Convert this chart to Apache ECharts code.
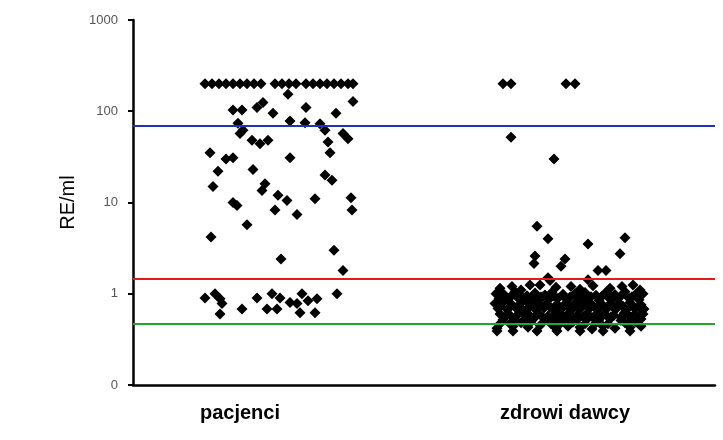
<!DOCTYPE html>
<html>
<head>
<meta charset="utf-8">
<title>RE/ml</title>
<script src="https://cdn.jsdelivr.net/npm/echarts@6/dist/echarts.min.js"></script>
<style>
  html, body { margin: 0; padding: 0; background: #fff; }
  #chart { width: 723px; height: 440px; }
</style>
</head>
<body>
<div id="chart"></div>
<script>
"use strict";

// group labels and where they sit along the jitter axis
const categories = ["pacjenci", "zdrowi dawcy"];
const categoryPos = [107, 432];

// y ticks (log scale, bottom decade is labelled "0")
const yTicks = [0.1, 1, 10, 100, 1000];

// cut-off lines
const cutLines = [
  { value: 70, color: "#1f2fbf" },
  { value: 1.45, color: "#e3191c" },
  { value: 0.47, color: "#1fa82a" }
];

// [jitter position, RE/ml]
const pacjenci = [
  [72, 200], [79, 200], [86, 200], [93, 200], [100, 200], [107, 200], [114, 200], [121, 200], [128, 200],
  [142, 200], [149, 200], [156, 200], [163, 200],
  [173, 200], [180, 200], [187, 200], [194, 200], [201, 200], [208, 200], [215, 200], [220, 200],
  [155, 154], [220, 128], [100, 103], [109, 103], [124, 110], [130, 125], [140, 95], [173, 110], [203, 95],
  [105, 74], [110, 62], [107, 57], [157, 78], [172, 75], [187, 73], [192, 62], [195, 46], [210, 57], [215, 50],
  [119, 48], [127, 44], [135, 48],
  [77, 35], [93, 30], [100, 31], [157, 31], [197, 35],
  [85, 22], [120, 23], [80, 15], [132, 16], [129, 13.5], [192, 20], [199, 17.5],
  [100, 10], [104, 9.3], [145, 12], [154, 10.5], [182, 11], [218, 11.3], [219, 8.3], [142, 8.3], [164, 7.4],
  [114, 5.7], [78, 4.2], [201, 3.0], [148, 2.4], [210, 1.8],
  [72, 0.9], [82, 1.0], [87, 0.88], [89, 0.78], [87, 0.6], [109, 0.68], [124, 0.9], [139, 1.0], [147, 0.9],
  [134, 0.68], [144, 0.68], [157, 0.8], [169, 1.0], [164, 0.78], [167, 0.62], [175, 0.84], [184, 0.88],
  [182, 0.62], [204, 1.0]
];

const zdrowi = [
  [370, 200], [378, 200], [433, 200], [442, 200],
  [378, 52], [421, 30], [404, 5.5], [415, 4.0], [455, 3.5], [492, 4.1], [487, 2.75],
  [402, 2.6], [401, 2.15], [432, 2.4], [428, 2.0], [465, 1.8], [473, 1.8],
  [415, 1.5], [397, 1.25], [500, 1.25], [417, 1.4], [455, 1.42],
  [367, 1.15], [379, 1.2], [388, 1.1], [407, 1.25], [423, 1.18], [438, 1.2], [447, 1.12], [460, 1.22],
  [477, 1.15], [489, 1.2], [507, 1.1],
  [363, 1.0], [371, 0.98], [382, 1.05], [394, 0.95], [402, 1.02], [412, 0.97], [419, 1.04], [430, 0.99],
  [442, 1.0], [452, 1.03], [463, 0.96], [472, 1.01], [482, 0.98], [492, 1.05], [502, 0.97], [510, 1.0],
  [368, 0.93], [378, 0.94], [389, 0.92], [400, 0.95], [410, 0.93], [421, 0.94], [437, 0.92], [449, 0.95],
  [458, 0.93], [469, 0.94], [479, 0.92], [488, 0.95], [499, 0.93], [506, 0.94],
  [366, 0.88], [375, 0.86], [385, 0.9], [391, 0.85], [399, 0.88], [408, 0.92], [416, 0.87], [425, 0.89],
  [434, 0.86], [445, 0.9], [455, 0.88], [466, 0.85], [476, 0.9], [485, 0.87], [496, 0.89], [506, 0.86],
  [362, 0.78], [370, 0.8], [379, 0.76], [388, 0.79], [397, 0.77], [405, 0.8], [414, 0.78], [423, 0.75],
  [433, 0.79], [441, 0.77], [450, 0.8], [459, 0.76], [468, 0.78], [478, 0.79], [487, 0.77], [497, 0.8], [508, 0.76],
  [367, 0.72], [378, 0.73], [387, 0.71], [396, 0.72], [407, 0.74], [417, 0.71], [426, 0.73], [436, 0.72],
  [445, 0.71], [454, 0.73], [461, 0.72], [470, 0.74], [480, 0.71], [490, 0.73], [500, 0.72], [507, 0.71],
  [365, 0.69], [374, 0.67], [383, 0.7], [393, 0.66], [402, 0.68], [411, 0.7], [420, 0.67], [429, 0.69],
  [438, 0.66], [447, 0.68], [457, 0.7], [465, 0.67], [474, 0.69], [483, 0.68], [493, 0.66], [503, 0.7], [511, 0.68],
  [367, 0.6], [377, 0.58], [386, 0.61], [396, 0.59], [406, 0.6], [415, 0.57], [425, 0.61], [435, 0.6],
  [444, 0.58], [454, 0.61], [463, 0.59], [472, 0.6], [481, 0.58], [491, 0.61], [501, 0.59], [510, 0.6],
  [372, 0.56], [382, 0.55], [392, 0.57], [402, 0.56], [410, 0.55], [420, 0.56], [430, 0.57], [440, 0.55],
  [450, 0.56], [460, 0.55], [469, 0.57], [478, 0.56], [488, 0.55], [497, 0.56], [506, 0.57],
  [370, 0.52], [381, 0.53], [391, 0.51], [401, 0.54], [412, 0.52], [423, 0.53], [433, 0.51], [444, 0.52],
  [455, 0.54], [466, 0.52], [477, 0.53], [488, 0.51], [499, 0.52], [508, 0.53],
  [368, 0.48], [377, 0.47], [388, 0.48], [398, 0.49], [418, 0.47], [428, 0.48], [440, 0.49], [452, 0.47],
  [463, 0.48], [475, 0.47], [492, 0.48], [503, 0.49],
  [364, 0.42], [380, 0.44], [395, 0.43], [407, 0.45], [423, 0.42], [435, 0.44], [447, 0.43], [459, 0.41],
  [470, 0.44], [482, 0.42], [497, 0.43], [508, 0.44],
  [364, 0.39], [380, 0.39], [404, 0.39], [424, 0.39], [447, 0.39], [470, 0.39], [497, 0.39]
];

const chart = echarts.init(document.getElementById("chart"), null, { renderer: "canvas" });

const dotStyle = {
  type: "scatter",
  symbol: "diamond",
  symbolSize: 11,
  itemStyle: { color: "#000", opacity: 1 },
  silent: true
};

chart.setOption({
  animation: false,
  grid: { left: 133, right: 8, top: 20, bottom: 55 },
  xAxis: {
    type: "value",
    min: 0,
    max: 582,
    axisLine: { show: true, lineStyle: { color: "#000", width: 2.5 } },
    axisTick: { show: false },
    splitLine: { show: false },
    axisLabel: {
      customValues: categoryPos,
      formatter: (v) => categories[categoryPos.indexOf(v)] || "",
      color: "#000",
      fontFamily: "Liberation Sans, Arial, sans-serif",
      fontWeight: "bold",
      fontSize: 20,
      margin: 18
    }
  },
  yAxis: {
    type: "log",
    logBase: 10,
    min: yTicks[0],
    max: yTicks[yTicks.length - 1],
    interval: 1,
    name: "RE/ml",
    nameLocation: "middle",
    nameGap: 52,
    nameRotate: 90,
    nameTextStyle: {
      color: "#000",
      fontFamily: "Liberation Sans, Arial, sans-serif",
      fontSize: 20
    },
    axisLine: { show: true, lineStyle: { color: "#000", width: 2.5 } },
    axisTick: { show: true, length: 5, lineStyle: { color: "#000", width: 2 } },
    splitLine: { show: false },
    axisLabel: {
      color: "#555",
      fontFamily: "Liberation Sans, Arial, sans-serif",
      fontSize: 13,
      margin: 15,
      formatter: (v) => (v < 1 ? "0" : String(Math.round(v)))
    }
  },
  series: [
    {
      type: "scatter",
      data: [],
      silent: true,
      markLine: {
        silent: true,
        symbol: "none",
        label: { show: false },
        animation: false,
        data: cutLines.map((c) => ({ yAxis: c.value, lineStyle: { color: c.color, width: 2, type: "solid" } }))
      }
    },
    Object.assign({ name: categories[0], data: pacjenci }, dotStyle),
    Object.assign({ name: categories[1], data: zdrowi }, dotStyle)
  ]
});
</script>
</body>
</html>
